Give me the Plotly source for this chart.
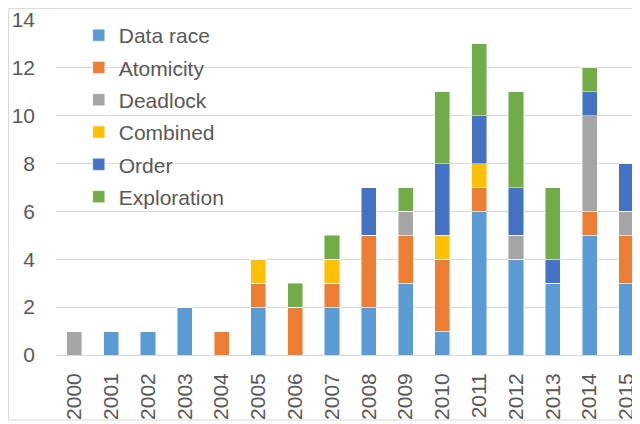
import plotly.graph_objects as go

years = [str(y) for y in range(2000, 2016)]
data_race   = [0, 1, 1, 2, 0, 2, 0, 2, 2, 3, 1, 6, 4, 3, 5, 3]
atomicity   = [0, 0, 0, 0, 1, 1, 2, 1, 3, 2, 3, 1, 0, 0, 1, 2]
deadlock    = [1, 0, 0, 0, 0, 0, 0, 0, 0, 1, 0, 0, 1, 0, 4, 1]
combined    = [0, 0, 0, 0, 0, 1, 0, 1, 0, 0, 1, 1, 0, 0, 0, 0]
order       = [0, 0, 0, 0, 0, 0, 0, 0, 2, 0, 3, 2, 2, 1, 1, 2]
exploration = [0, 0, 0, 0, 0, 0, 1, 1, 0, 1, 3, 3, 4, 3, 1, 0]

series = [
    ("Data race", data_race, "#5B9BD5"),
    ("Atomicity", atomicity, "#ED7D31"),
    ("Deadlock", deadlock, "#A5A5A5"),
    ("Combined", combined, "#FFC000"),
    ("Order", order, "#4472C4"),
    ("Exploration", exploration, "#70AD47"),
]

fig = go.Figure()
for name, vals, col in series:
    fig.add_trace(go.Bar(
        x=years, y=vals, name=name, legendgroup=name,
        marker=dict(color=col, line=dict(color="rgba(255,255,255,0.6)", width=0.75)),
    ))

font = "Liberation Sans"
fig.update_layout(
    width=632, height=416,
    barmode="stack", bargap=0.59,
    margin=dict(l=48, r=0, t=12, b=69),
    paper_bgcolor="white", plot_bgcolor="white",
    font=dict(family=font, size=21, color="#595959"),
    legend=dict(
        x=0.039, y=1.015, xanchor="left", yanchor="top",
        traceorder="grouped", tracegroupgap=2, bgcolor="rgba(0,0,0,0)",
        font=dict(family=font, size=21, color="#595959"),
        itemwidth=30,
    ),
    xaxis=dict(
        type="category", range=[-0.5, 15.37], automargin=False,
        tickangle=-90, showgrid=False, ticks="", showline=False,
        ticklabelstandoff=13,
        tickfont=dict(family=font, size=21, color="#595959"),
    ),
    yaxis=dict(
        range=[0, 14], dtick=2, showgrid=True, gridcolor="#D9D9D9", gridwidth=1,
        zeroline=True, zerolinecolor="#D9D9D9", zerolinewidth=1, automargin=False,
        ticks="", showline=False, ticklabelstandoff=20,
        tickfont=dict(family=font, size=21, color="#595959"),
    ),
    shapes=[dict(
        type="rect", xref="paper", yref="paper",
        x0=-0.0813, x1=1.05, y0=-0.194, y1=1.0343,
        line=dict(color="#D9D9D9", width=1), fillcolor="rgba(0,0,0,0)",
    )],
)

fig.write_html("out.html")
